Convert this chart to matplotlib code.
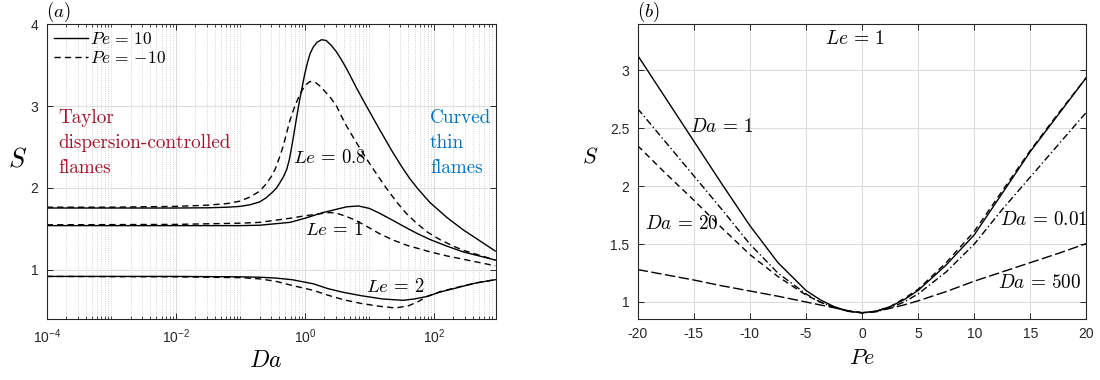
import numpy as np
import matplotlib
matplotlib.use("Agg")
import matplotlib.pyplot as plt
from matplotlib import ticker

plt.rcParams['font.family'] = ['Liberation Sans', 'DejaVu Sans']
plt.rcParams['mathtext.fontset'] = 'cm'
plt.rcParams['axes.unicode_minus'] = False

# ---- panel (a): S vs Da, Pe = +10 (solid) / -10 (dashed) ----
# log10(Da) and S
le08_p_x = [-4, -3, -2, -1.5, -1.2, -1.0, -0.85, -0.7, -0.6, -0.5, -0.44, -0.39, -0.33, -0.28, -0.24,
            -0.2, -0.16, -0.12, -0.08, -0.04, 0.0, 0.04, 0.08, 0.13, 0.19, 0.26, 0.33, 0.41, 0.49, 0.57,
            0.65, 0.8, 0.96, 1.16, 1.35, 1.5, 1.62, 1.75, 1.94, 2.2, 2.45, 2.7, 2.95]
le08_p_s = [1.755, 1.755, 1.755, 1.758, 1.765, 1.775, 1.795, 1.83, 1.88, 1.95, 2.0, 2.06, 2.14, 2.23, 2.35,
            2.52, 2.71, 2.9, 3.08, 3.24, 3.4, 3.53, 3.64, 3.72, 3.78, 3.81, 3.8, 3.74, 3.66, 3.56,
            3.45, 3.22, 2.99, 2.71, 2.45, 2.26, 2.12, 1.99, 1.82, 1.64, 1.49, 1.36, 1.23]
le08_m_x = [-4, -3, -2, -1.5, -1.2, -1.0, -0.85, -0.7, -0.6, -0.52, -0.46, -0.4, -0.34, -0.28, -0.23,
            -0.16, -0.08, 0.0, 0.08, 0.16, 0.24, 0.32, 0.39, 0.49, 0.57, 0.65, 0.8, 0.96, 1.06, 1.25,
            1.42, 1.57, 1.73, 1.9, 2.09, 2.3, 2.45, 2.7, 2.95]
le08_m_s = [1.765, 1.765, 1.775, 1.79, 1.81, 1.84, 1.89, 1.96, 2.05, 2.14, 2.23, 2.36, 2.5, 2.68, 2.83,
            2.99, 3.14, 3.25, 3.3, 3.29, 3.24, 3.17, 3.11, 3.0, 2.87, 2.75, 2.55, 2.35, 2.23, 2.01,
            1.83, 1.69, 1.57, 1.46, 1.37, 1.29, 1.24, 1.18, 1.12]

le1_p_x = [-4, -2, -1, -0.7, -0.23, 0.0, 0.28, 0.39, 0.49, 0.65, 0.83, 1.0, 1.16, 1.35, 1.58, 1.75, 1.94, 2.2,
           2.45, 2.7, 2.95]
le1_p_s = [1.54, 1.54, 1.54, 1.545, 1.58, 1.63, 1.7, 1.72, 1.74, 1.77, 1.78, 1.75, 1.69, 1.61, 1.51, 1.44, 1.37,
           1.29, 1.22, 1.17, 1.12]
le1_m_x = [-4, -2, -1, -0.7, -0.23, 0.0, 0.28, 0.39, 0.5, 0.65, 0.8, 0.96, 1.16, 1.38, 1.58, 1.94, 2.2, 2.45,
           2.7, 2.95]
le1_m_s = [1.55, 1.555, 1.57, 1.58, 1.63, 1.66, 1.69, 1.7, 1.69, 1.65, 1.6, 1.53, 1.44, 1.36, 1.3, 1.22, 1.17,
           1.13, 1.09, 1.05]

le2_p_x = [-4, -2, -1, -0.7, -0.45, -0.2, 0.13, 0.36, 0.6, 0.87, 1.2, 1.52, 1.7, 1.89, 2.1, 2.4, 2.65, 2.95]
le2_p_s = [0.92, 0.92, 0.915, 0.91, 0.9, 0.88, 0.83, 0.77, 0.725, 0.685, 0.645, 0.628, 0.645, 0.675, 0.73, 0.79,
           0.84, 0.88]
le2_m_x = [-4, -2, -1, -0.7, -0.45, -0.2, 0.13, 0.36, 0.6, 0.87, 1.16, 1.4, 1.6, 1.75, 1.89, 2.1, 2.4, 2.65, 2.95]
le2_m_s = [0.92, 0.915, 0.905, 0.89, 0.86, 0.81, 0.75, 0.69, 0.635, 0.59, 0.555, 0.535, 0.56, 0.61, 0.675, 0.735,
           0.795, 0.84, 0.88]

# ---- panel (b): S vs Pe, Le = 1 ----
pe = [-20, -17.5, -15, -12.5, -10, -7.5, -5, -3.75, -2.5, -1.25, 0, 1.25, 2.5, 3.75, 5, 7.5, 10, 12.5, 15, 17.5, 20]
s_da1 = [3.13, 2.76, 2.39, 2.02, 1.66, 1.34, 1.10, 1.02, 0.96, 0.92, 0.907, 0.92, 0.96, 1.02, 1.10, 1.32, 1.58,
         1.94, 2.30, 2.62, 2.94]
s_da20 = [2.35, 2.11, 1.88, 1.64, 1.41, 1.22, 1.06, 1.0, 0.955, 0.92, 0.907, 0.92, 0.96, 1.03, 1.11, 1.34, 1.61,
          1.96, 2.31, 2.63, 2.94]
s_da001 = [2.67, 2.38, 2.09, 1.80, 1.50, 1.25, 1.07, 1.0, 0.955, 0.92, 0.907, 0.915, 0.95, 1.0, 1.07, 1.26, 1.50,
           1.80, 2.08, 2.36, 2.64]
s_da500 = [1.28, 1.235, 1.19, 1.14, 1.095, 1.05, 1.0, 0.975, 0.95, 0.925, 0.907, 0.92, 0.945, 0.975, 1.01, 1.09,
           1.18, 1.26, 1.34, 1.42, 1.505]

axcol = '#262626'
red = '#A2142F'
blue = '#0072BD'
dash = (4.5, 3)

fig = plt.figure(figsize=(11, 3.8), dpi=100)
ax1 = fig.add_axes([0.0425, 0.1605, 0.408, 0.776])
ax2 = fig.add_axes([0.5797, 0.1605, 0.408, 0.776])


def style(ax):
    for sp in ax.spines.values():
        sp.set_color(axcol)
        sp.set_linewidth(0.8)
    ax.tick_params(which='both', direction='in', top=True, right=True, colors=axcol, labelsize=10)
    ax.tick_params(which='major', length=4.5, width=0.7, pad=6)
    ax.tick_params(which='minor', length=2.5, width=0.6)
    ax.set_axisbelow(True)


# panel (a)
ax1.plot(10 ** np.array(le08_p_x), le08_p_s, 'k-', lw=1.0, label=r'$Pe\,=\,10$')
ax1.plot(10 ** np.array(le08_m_x), le08_m_s, 'k--', dashes=dash, lw=1.0, label=r'$Pe\,=\,{-10}$')
ax1.plot(10 ** np.array(le1_p_x), le1_p_s, 'k-', lw=1.0)
ax1.plot(10 ** np.array(le1_m_x), le1_m_s, 'k--', dashes=dash, lw=1.0)
ax1.plot(10 ** np.array(le2_p_x), le2_p_s, 'k-', lw=1.0)
ax1.plot(10 ** np.array(le2_m_x), le2_m_s, 'k--', dashes=dash, lw=1.0)
ax1.set_xscale('log')
ax1.set_xlim(1e-4, 900)
ax1.set_ylim(0.4, 4)
ax1.set_xticks([1e-4, 1e-2, 1e0, 1e2])
ax1.xaxis.set_minor_locator(ticker.LogLocator(base=10, subs=np.arange(1, 10), numticks=30))
ax1.xaxis.set_minor_formatter(ticker.NullFormatter())
ax1.set_yticks([1, 2, 3, 4])
ax1.grid(True, which='major', color='#dcdcdc', lw=0.8)
ax1.grid(True, which='minor', axis='x', color='#c8c8c8', lw=0.6, ls=':')
style(ax1)

ax1.legend(loc='upper left', frameon=False, fontsize=12.5, handlelength=2.0, handletextpad=0.1,
           labelspacing=0.15, borderaxespad=0.2, borderpad=0.2)
ax1.text(1.5e-4, 2.55, 'Taylor\ndispersion-controlled\nflames', family='cmr10', fontsize=13.8, color=red,
         ha='left', va='center', linespacing=1.5)
ax1.text(87, 2.55, 'Curved\nthin\nflames', family='cmr10', fontsize=13.8, color=blue,
         ha='left', va='center', linespacing=1.5)
ax1.text(0.65, 2.37, r'$Le\,=\,0.8$', fontsize=13.5, ha='left', va='center')
ax1.text(1.0, 1.49, r'$Le\,=\,1$', fontsize=13.5, ha='left', va='center')
ax1.text(8.8, 0.79, r'$Le\,=\,2$', fontsize=13.5, ha='left', va='center')
ax1.set_xlabel(r'$Da$', fontsize=17)
ax1.xaxis.set_label_coords(0.487, -0.105)
ax1.set_ylabel(r'$S$', fontsize=19, rotation=0, va='center')
ax1.yaxis.set_label_coords(-0.064, 0.54)

# panel (b)
ax2.plot(pe, s_da1, 'k-', lw=1.0)
ax2.plot(pe, s_da20, 'k--', dashes=dash, lw=1.0)
ax2.plot(pe, s_da001, 'k-.', dashes=(5, 2, 1, 2), lw=1.0)
ax2.plot(pe, s_da500, 'k--', dashes=(7.5, 2.5), lw=1.0)
ax2.set_xlim(-20, 20)
ax2.set_ylim(0.853, 3.4)
ax2.set_xticks(np.arange(-20, 21, 5))
ax2.set_yticks([1, 1.5, 2, 2.5, 3])
ax2.yaxis.set_major_formatter(ticker.FormatStrFormatter('%g'))
ax2.grid(True, which='major', color='#dcdcdc', lw=0.8)
style(ax2)

ax2.text(-0.65, 3.27, r'$Le\,=\,1$', fontsize=14, ha='center', va='center')
ax2.text(-15.35, 2.51, r'$Da\,=\,1$', fontsize=13.8, ha='left', va='center')
ax2.text(-19.35, 1.67, r'$Da\,=\,20$', fontsize=13.8, ha='left', va='center')
ax2.text(12.28, 1.71, r'$Da\,=\,0.01$', fontsize=13.8, ha='left', va='center')
ax2.text(12.1, 1.165, r'$Da\,=\,500$', fontsize=13.8, ha='left', va='center')
ax2.set_xlabel(r'$Pe$', fontsize=16)
ax2.xaxis.set_label_coords(0.5, -0.1)
ax2.set_ylabel(r'$S$', fontsize=16, rotation=0, va='center')
ax2.yaxis.set_label_coords(-0.106, 0.55)

fig.text(46 / 1100, 1 - 12 / 380, r'$(a)$', fontsize=13.5, ha='left', va='center')
fig.text(637 / 1100, 1 - 12 / 380, r'$(b)$', fontsize=13.5, ha='left', va='center')

fig.savefig('out.png', dpi=100)
